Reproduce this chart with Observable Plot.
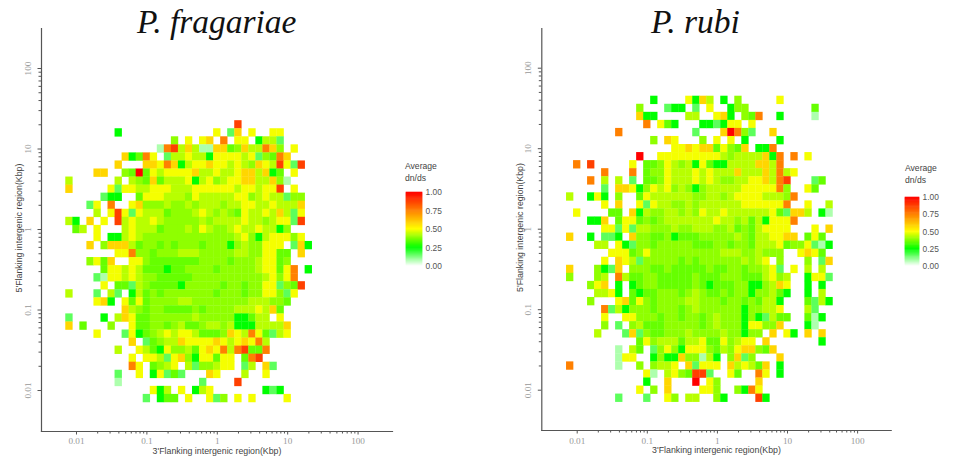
<!DOCTYPE html>
<html>
<head>
<meta charset="utf-8">
<script src="https://cdn.jsdelivr.net/npm/d3@7"></script>
<script src="https://cdn.jsdelivr.net/npm/@observablehq/plot@0.6"></script>
<style>
html,body{margin:0;padding:0;background:#fff;width:953px;height:459px;overflow:hidden}
#page{position:relative;width:953px;height:459px}
.panel{position:absolute;top:0}
.title{position:absolute;font:italic 33.5px/33px "Liberation Serif",serif;color:#111;white-space:nowrap}
.legtitle{position:absolute;font:8.6px/12px "Liberation Sans",sans-serif;color:#444}
svg g[aria-label="rect"]{filter:blur(.7px)}
</style>
</head>
<body>
<div id="page"></div>
<script>
// average dn/ds levels used by the cell codes below ("." = no genes in the cell)
const codes = "0123456789A";
const levels = [0.08,0.16,0.25,0.35,0.39,0.43,0.49,0.58,0.75,0.875,1];

// each string is one row of cells, top row first; columns start one bin left of 0.01
const fragariaeTopRow = 33;
const fragariaeRows = [
"..... ..... ..... ..... ....9 ..... .....",
"..... ..2.. ..... ..... .6.17 .6..6 6....",
"..... ..... ..... 4.6.6 7.8.6 6.255 1....",
"..... ..... ...08 95750 07734 75587 4.6..",
"..... ...72 386.1 55655 26666 56143 87...",
"..... ..7.. .7768 72566 76656 54765 9619.",
"....7 7..43 A3656 66675 56556 77572 3.6..",
"5.... ..5.5 43735 55625 64566 77557 40...",
"7.... .6166 55666 55566 66665 66566 9.6..",
"..... 122.. 36665 55465 55556 64565 5144.",
"...16 .8..6 74445 44545 55455 66556 5557.",
"....5 .6961 65553 44456 54543 65565 7516.",
"52.7. 6.956 55654 44445 45555 65545 6619.",
".35.6 ...56 55534 44546 54456 55655 24...",
"....6 .2256 54444 44444 44445 64256 6646.",
"...7. 47775 34434 34443 44424 54466 6.172",
"..... ..668 44344 45554 44445 54466 33.7.",
"...46 37..6 64333 33334 44434 44566 34...",
"..... 36656 53332 33444 43444 44566 368.2",
"....1 06656 54433 33344 44444 44456 468..",
"..... 6.331 54333 32444 44344 34466 1439.",
"5...1 .51.2 53434 44444 43444 34466 416..",
"....6 72.63 63444 45544 44444 45554 43...",
"..... ...75 43443 33343 44445 55657 3....",
"1.... 2.576 33444 44454 44442 2355. 6....",
"7.3.. .4..6 33443 45334 55452 22555 57...",
"....6 ...16 23456 56653 33476 58631 56...",
"..... ....7 .1345 57666 67656 7685. .....",
"..... ..5.. 65326 44536 76858 9338. .....",
"..... ....6 .6651 67426 6366. 389.. .....",
"..... ....8 6.345 6.514 4566. 15.71 .....",
"..... ..1.. 6.261 31... 76... 5..6. .....",
"..... ..0.. ..... ....1 ....9 ..... .....",
"..... ..... ..625 .6.25 6.... ...21 2....",
"..... ..... .1.23 3.6.. 614.6 .6... .6..."
];

const rubiTopRow = 36;
const rubiRows = [
"..... ..... ..2.. ..627 5.2.4 ..... 6.... .....",
"..... ..... 4...1 22.1. 6..24 4.... ..... 3....",
"..... ..... 722.. ..55. .672. 438.. 2.... 0....",
"..... ..... .8.63 2...2 21266 .6... ..... .....",
"..... ..8.. ..... ...1. ..7A8 41..7 ..... .....",
"..... ..... ..4.7 6...4 .6.6. 2.... 2.... .....",
"..... ..... ..... 66767 73643 7.228 ..... .....",
"..... ..... A..66 66666 66545 55572 8.8.6 .....",
".8.9. ....6 .3346 54526 32255 55775 8.... .....",
"..... 8...8 .3446 55565 65557 55575 856.. .....",
"...8. 5.5.1 .3346 55565 65445 56675 89... 13...",
"..... 1.776 24656 45424 55555 66666 84..6 3....",
"5..26 2.4.. 36555 55544 55456 66655 548.. .....",
"..... 6.7.. 61655 44545 55555 66666 68..6 ..5..",
".6... .33.7 25445 54546 55655 55556 31775 .20..",
"...22 7.366 34345 55555 56554 53526 668.. .....",
"..... 66161 55444 54455 54453 43566 66... 6.7..",
"7..2. 112.7 44334 23334 44445 43556 677.3 63...",
"....5 5.621 44344 44433 34434 43555 63446 102..",
"..... .6663 46444 44444 44555 44544 4..67 63...",
"..... 6.765 14444 43434 44444 5456. 4...4 .17..",
"7...4 217.4 44334 33333 43344 34456 1.6.5 .5...",
"4...4 5.853 34433 33343 33444 33356 45..2 661..",
"...46 7.2.2 34433 33343 23334 42245 76..2 .2...",
"....5 562.3 23344 43454 33434 42445 32..2 .5...",
"...4. ..673 64344 44554 44344 34355 2...3 152..",
"..... 81524 44344 43454 44444 24455 6...5 1....",
"..... 6..66 44434 43443 45444 24215 33..3 02...",
"..... 4.1.4 53334 44443 45444 26644 7...2 0....",
"....5 ...17 14334 44544 44544 244.7 .62.7 .7...",
"..... ..... 36455 53556 33645 66.7. ..... .2...",
"..... ..0.5 3.146 42666 43546 77437 ..... .....",
"..... ..066 ..242 27440 52.47 14... 7.... .....",
"8.... ..0.. 4.455 6.716 66.75 6537. 2.... .....",
"..... ..... .60.5 64399 1..63 ..86. 2.... .....",
"..... ..... .2..7 ...A. 64... ..7.. ..... .....",
"..... ..... 6.4.7 ....6 64..4 286.. ..... .....",
"..... ..1.. .1..6 4.55. .42.. ..92. ..... ....."
];

// axes and legend
const majorTicks = [0.01, 0.1, 1, 10, 100];
const tickLabels = ["0.01", "0.1", "1", "10", "100"];
const minorMultipliers = [2, 3, 4, 5, 6, 7, 8, 9];
const legendTicks = [0, 0.25, 0.5, 0.75, 1];
const xLabel = "3'Flanking intergenic region(Kbp)";
const yLabel = "5'Flanking intergenic region(Kbp)";
const legendLines = ["Average", "dn/ds"];

const minorTicks = majorTicks.slice(0, 4).flatMap(t => minorMultipliers.map(m => +(t * m).toPrecision(2)));
const colorScale = {type: "linear", domain: [0, .25, .5, 1], range: ["#ffffff", "#00ff00", "#ffff00", "#ff0000"], interpolate: "rgb", clamp: true};

function cells(rows, topRow) {
  return rows.flatMap((r, i) => [...r.replace(/ /g, "")].flatMap((c, n) =>
    c === "." ? [] : [{col: n - 1, row: topRow - i, value: levels[codes.indexOf(c)]}]));
}
const edge = b => 10 ** (-2 + b * 0.1);

function panel(rows, topRow, o) {
  const data = cells(rows, topRow);
  const svg = Plot.plot({
    width: 400, height: 459,
    marginLeft: o.ml, marginRight: o.mr, marginTop: 28, marginBottom: o.mb,
    x: {type: "log", domain: o.xd, axis: null},
    y: {type: "log", domain: o.yd, axis: null},
    color: colorScale,
    style: {background: "transparent", overflow: "visible"},
    marks: [
      Plot.rect(data, {
        x1: d => edge(d.col - .5), x2: d => edge(d.col + .5),
        y1: d => edge(d.row - .5), y2: d => edge(d.row + .5),
        fill: "value", inset: -0.15
      }),
      Plot.axisX({ticks: minorTicks, tickSize: 2.5, text: null, stroke: "#555", label: null}),
      Plot.axisX({ticks: majorTicks, tickSize: 3.5, stroke: "#555", label: null, tickPadding: o.xpad,
        tickFormat: d => tickLabels[majorTicks.indexOf(d)], fontFamily: "Liberation Serif", fontSize: 9.2, fill: "#999"}),
      Plot.axisY({ticks: minorTicks, tickSize: 2.5, text: null, stroke: "#555", label: null}),
      Plot.axisY({ticks: majorTicks, tickSize: 3.5, stroke: "#555", label: null, tickPadding: 7, tickRotate: -90,
        tickFormat: d => tickLabels[majorTicks.indexOf(d)], fontFamily: "Liberation Serif", fontSize: 9.2, fill: "#999"}),
      Plot.frame({anchor: "left", stroke: "#555", strokeWidth: 1.2}),
      Plot.frame({anchor: "bottom", stroke: "#555", strokeWidth: 1.2}),
      Plot.text([xLabel], {frameAnchor: "bottom", dy: 22, fontFamily: "Liberation Sans", fontSize: 8.8, fill: "#444"}),
      Plot.text([yLabel], {frameAnchor: "left", textAnchor: "middle", dx: -22, dy: -2, rotate: -90, fontFamily: "Liberation Sans", fontSize: 8.8, fill: "#444"})
    ]
  });
  svg.classList.add("panel");
  svg.style.left = o.left + "px";
  return svg;
}

function legend(left, top, o) {
  const steps = d3.range(0, 1, 0.0125);
  const svg = Plot.plot({
    width: 50, height: 95,
    marginLeft: 6, marginRight: o.mr, marginTop: o.mt, marginBottom: o.mb,
    x: {domain: [0, 1], axis: null},
    y: {domain: [0, 1], axis: null},
    color: colorScale,
    style: {background: "transparent", overflow: "visible", position: "absolute", left: left + "px", top: top + "px"},
    marks: [
      Plot.rect(steps, {x1: 0, x2: 1, y1: d => d, y2: d => d + 0.0125, fill: d => d, inset: -0.3}),
      Plot.axisY({anchor: "right", ticks: legendTicks, tickSize: 0, tickPadding: 3, label: null,
        tickFormat: d3.format(".2f"), fontFamily: "Liberation Sans", fontSize: 8.4, fill: "#555"})
    ]
  });
  return svg;
}

function label(text, cls, left, top) {
  const d = document.createElement("div");
  d.className = cls;
  d.textContent = text;
  d.style.left = left + "px";
  d.style.top = top + "px";
  return d;
}

const page = document.getElementById("page");
page.append(
  panel(fragariaeRows, fragariaeTopRow, {left: 0, ml: 41, mr: 8, mb: 28, xpad: 2,
    xd: [10 ** -2.497, 10 ** 2.489], yd: [10 ** -2.509, 10 ** 2.497]}),
  panel(rubiRows, rubiTopRow, {left: 500, ml: 41.3, mr: 9.3, mb: 29, xpad: 3,
    xd: [10 ** -2.505, 10 ** 2.479], yd: [10 ** -2.5006, 10 ** 2.493]}),
  legend(400, 180, {mr: 28, mt: 12, mb: 9}),
  legend(899, 185, {mr: 30, mt: 12, mb: 14}),
  label("P. fragariae", "title", 137, 5),
  label("P. rubi", "title", 651, 5),
  label(legendLines[0], "legtitle", 405, 160),
  label(legendLines[1], "legtitle", 405, 172),
  label(legendLines[0], "legtitle", 905, 162),
  label(legendLines[1], "legtitle", 905, 174)
);
</script>
</body>
</html>
